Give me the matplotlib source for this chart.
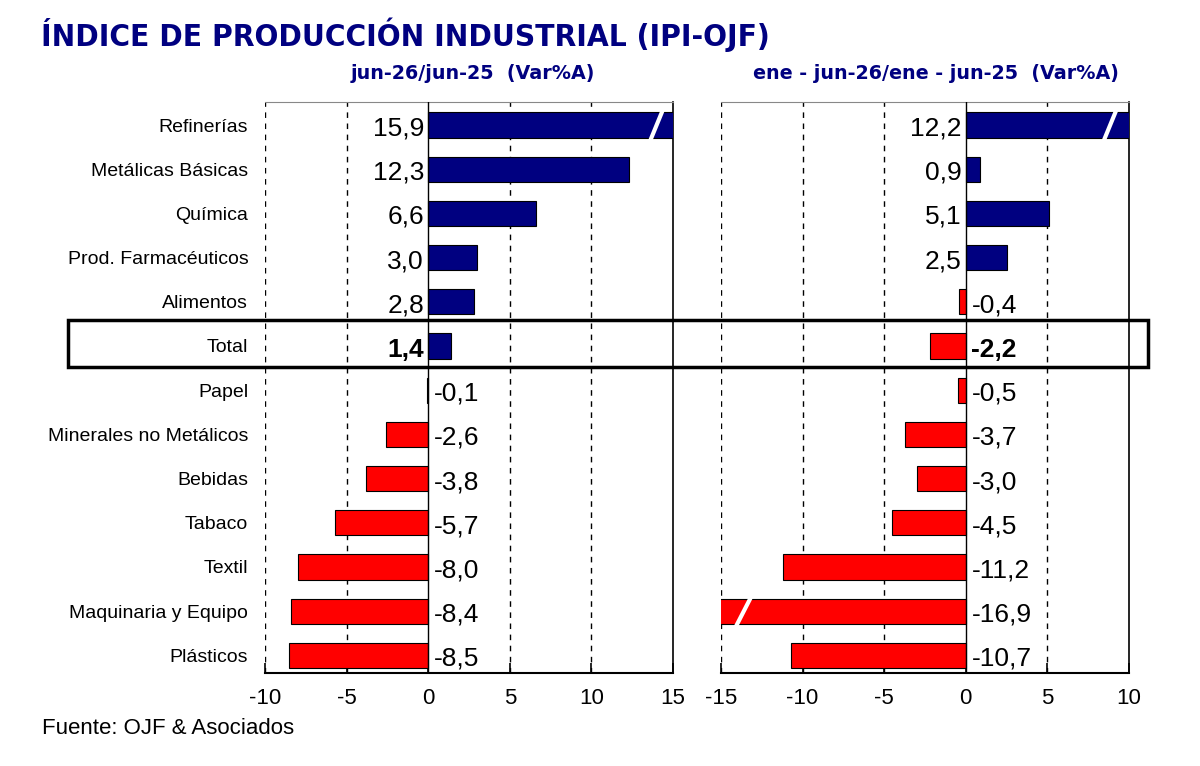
import numpy as np
import matplotlib
matplotlib.use("Agg")
import matplotlib.pyplot as plt
from matplotlib.patches import Rectangle

plt.rcParams["font.family"] = ["Liberation Sans", "DejaVu Sans"]

categories = ["Refinerías", "Metálicas Básicas", "Química", "Prod. Farmacéuticos",
              "Alimentos", "Total", "Papel", "Minerales no Metálicos", "Bebidas",
              "Tabaco", "Textil", "Maquinaria y Equipo", "Plásticos"]
var_jun = [15.9, 12.3, 6.6, 3.0, 2.8, 1.4, -0.1, -2.6, -3.8, -5.7, -8.0, -8.4, -8.5]
var_ytd = [12.2, 0.9, 5.1, 2.5, -0.4, -2.2, -0.5, -3.7, -3.0, -4.5, -11.2, -16.9, -10.7]

title = "ÍNDICE DE PRODUCCIÓN INDUSTRIAL (IPI-OJF)"
sub_left = "jun-26/jun-25  (Var%A)"
sub_right = "ene - jun-26/ene - jun-25  (Var%A)"
source = "Fuente: OJF & Asociados"

NAVY = "#000080"
RED = "#ff0000"

fig = plt.figure(figsize=(12, 7.66), dpi=100)
ax1 = fig.add_axes([0.2208, 0.1214, 0.34, 0.7454])
ax2 = fig.add_axes([0.6008, 0.1214, 0.34, 0.7454])

def fmt(v):
  return ("%.1f" % v).replace(".", ",")

def panel(ax, vals, xlim, ticks, breaks):
  y = np.arange(len(vals))
  colors = [NAVY if v >= 0 else RED for v in vals]
  ax.barh(y, vals, height=0.57, color=colors, edgecolor="black", linewidth=0.8, zorder=3)
  ax.set_xlim(*xlim)
  ax.set_ylim(len(vals) - 0.6, -0.52)
  for t in ticks:
    if t != 0 and t != xlim[1]:
      ax.axvline(t, color="black", linestyle=(0, (4, 4)), linewidth=1, zorder=1)
  ax.axvline(0, color="black", linewidth=1, zorder=4)
  for i, v in enumerate(vals):
    bold = categories[i] == "Total"
    if v >= 0:
      ax.text(-0.25, i + 0.08, fmt(v), ha="right", va="center", fontsize=19,
              fontweight="bold" if bold else "normal", zorder=5)
    else:
      ax.text(0.35, i + 0.08, fmt(v), ha="left", va="center", fontsize=19,
              fontweight="bold" if bold else "normal", zorder=5)
  # break marks on clipped bars
  for i, x0, x1 in breaks:
    ax.plot([x0, x1], [i + 0.36, i - 0.36], color="white", linewidth=3, zorder=4)
  ax.set_xticks(ticks)
  ax.set_xticklabels([str(t) for t in ticks], fontsize=16)
  ax.tick_params(axis="x", direction="in", length=7, width=1.2, pad=11)
  ax.spines["left"].set_visible(False)
  ax.spines["top"].set_color("#888888")
  ax.spines["bottom"].set_linewidth(1.5)
  ax.spines["right"].set_linewidth(1.2)

panel(ax1, var_jun, (-10, 15), [-10, -5, 0, 5, 10, 15], [(0, 13.6, 14.4)])
panel(ax2, var_ytd, (-15, 10), [-15, -10, -5, 0, 5, 10], [(0, 8.45, 9.25), (11, -14.1, -13.1)])

ax1.set_yticks(np.arange(len(categories)))
ax1.set_yticklabels(categories, fontsize=14)
ax1.tick_params(axis="y", length=0, pad=12)
ax2.set_yticks([])

# total box across both panels
fig.patches.append(Rectangle((0.0567, 0.521), 0.9, 0.061, transform=fig.transFigure,
                             fill=False, edgecolor="black", linewidth=2.5, zorder=10))

fig.text(0.034, 0.955, title, fontsize=22.6, fontweight="bold", color=NAVY,
         ha="left", va="center", family=["DejaVu Sans"], stretch="condensed")
fig.text(0.394, 0.904, sub_left, fontsize=13.8, fontweight="bold", color=NAVY, ha="center", va="center",
         family=["DejaVu Sans"])
fig.text(0.780, 0.904, sub_right, fontsize=13.8, fontweight="bold", color=NAVY, ha="center", va="center",
         family=["DejaVu Sans"])
fig.text(0.035, 0.049, source, fontsize=16, ha="left", va="center")

fig.savefig("out.png", dpi=100, facecolor="white")
